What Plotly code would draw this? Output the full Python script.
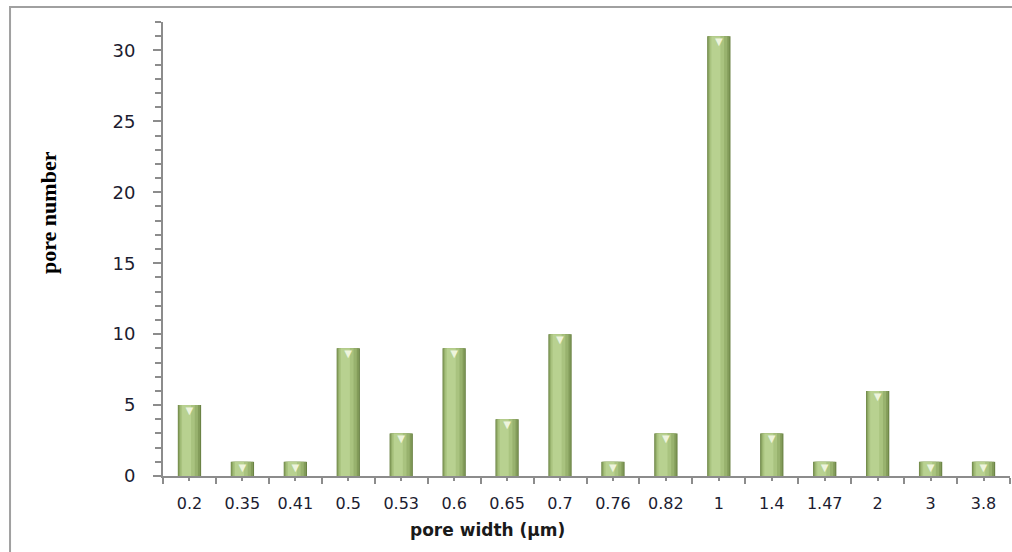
import plotly.graph_objects as go

# Pore size distribution
pore_width = ["0.2", "0.35", "0.41", "0.5", "0.53", "0.6", "0.65", "0.7",
              "0.76", "0.82", "1", "1.4", "1.47", "2", "3", "3.8"]
pore_count = [5, 1, 1, 9, 3, 9, 4, 10, 1, 3, 31, 3, 1, 6, 1, 1]

positions = list(range(len(pore_width)))

fig = go.Figure()

# Layered bars give each column a rounded, shaded look:
# dark rim, mid body, light stripe left of centre.
layers = [
    (0.44, None, "#6a8244"),
    (0.41, -0.21, "#839c5a"),
    (0.35, -0.19, "#98b26e"),
    (0.27, -0.17, "#a9c37f"),
    (0.17, -0.14, "#b8d190"),
]
for width, offset, color in layers:
    fig.add_trace(go.Bar(
        x=positions, y=pore_count, width=width, offset=offset,
        marker=dict(color=color, line=dict(width=0)),
        hoverinfo="skip", showlegend=False,
    ))

# Light chevron just under the top of every bar
fig.add_trace(go.Scatter(
    x=positions, y=pore_count, mode="text", text=["▼"] * len(positions),
    textposition="bottom center",
    textfont=dict(size=13, color="#eef4dc"),
    hoverinfo="skip", showlegend=False,
))

fig.update_layout(
    width=1012, height=552,
    margin=dict(l=163, r=2, t=22, b=76),
    paper_bgcolor="white", plot_bgcolor="white",
    barmode="overlay",
    xaxis=dict(
        range=[-0.5, len(pore_width) - 0.5],
        tickmode="array", tickvals=positions, ticktext=pore_width,
        ticks="outside", ticklen=3, tickcolor="#8c8c8c", tickwidth=1.5,
        minor=dict(tickmode="linear", tick0=-0.5, dtick=1, ticks="outside",
                   ticklen=6, tickcolor="#8c8c8c", tickwidth=1.5),
        showline=True, linecolor="#8c8c8c", linewidth=2,
        showgrid=False, zeroline=False,
        tickfont=dict(family="DejaVu Sans", size=16, color="#1c1c30"),
        ticklabelstandoff=9,
    ),
    yaxis=dict(
        range=[0, 32], dtick=5,
        ticks="outside", ticklen=8, tickcolor="#8c8c8c", tickwidth=1.5,
        minor=dict(dtick=1, ticks="outside", ticklen=6,
                   tickcolor="#8c8c8c", tickwidth=1.5),
        showline=True, linecolor="#8c8c8c", linewidth=2,
        showgrid=False, zeroline=False,
        tickfont=dict(family="DejaVu Sans", size=18, color="#1c1c30"),
        ticklabelstandoff=14,
    ),
    shapes=[dict(
        type="rect", xref="paper", yref="paper",
        x0=-0.1806, x1=1.02, y0=-0.2, y1=1.033,
        line=dict(color="#a0a0a0", width=2), layer="below",
    )],
    annotations=[
        dict(text="pore width (µm)", xref="paper", yref="paper",
             x=(487 - 163) / 847, y=(476 - 530) / 454,
             xanchor="center", yanchor="middle", showarrow=False,
             font=dict(family="DejaVu Sans", size=17, color="#1a1a1a",
                       weight="bold")),
        dict(text="<b>pore number</b>", xref="paper", yref="paper",
             x=(48.5 - 163) / 847, y=(476 - 212.5) / 454,
             xanchor="center", yanchor="middle", showarrow=False,
             textangle=-90,
             font=dict(family="Liberation Serif", size=22, color="black")),
    ],
)

fig.write_html("out.html")
